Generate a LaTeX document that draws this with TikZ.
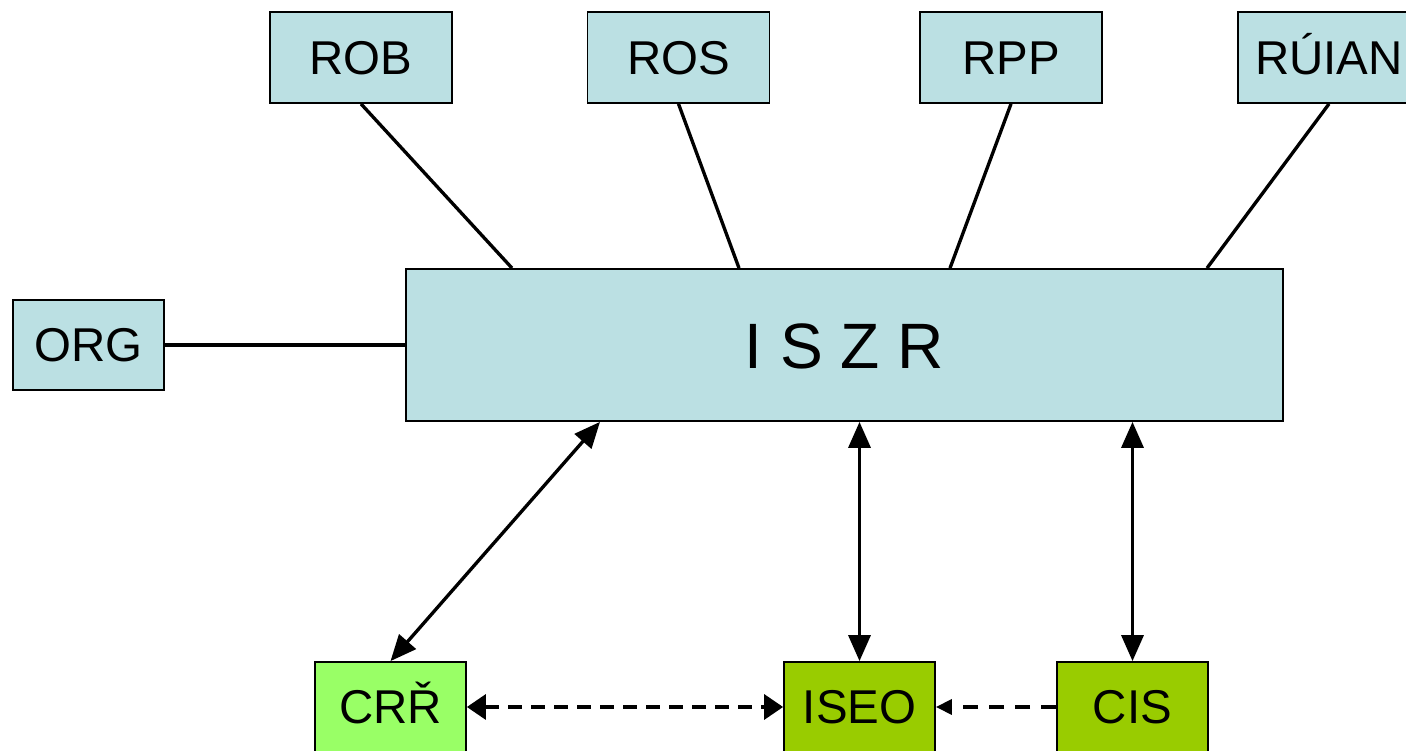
\documentclass[tikz,border=0pt]{standalone}
\usepackage{fontspec}
\setmainfont{Liberation Sans}
\usepackage{tikz}
\usetikzlibrary{arrows.meta}
\definecolor{regblue}{HTML}{BBE0E3}
\definecolor{lightgreen}{HTML}{99FF66}
\definecolor{olivegreen}{HTML}{99CC00}
\tikzset{
  regbox/.style={draw, line width=1pt, fill=regblue, minimum width=3.64cm, minimum height=1.82cm, inner sep=0pt, text height=0.68cm, text depth=0cm, font=\fontsize{27}{31}\selectfont},
  agbox/.style={draw, line width=1pt, minimum width=3.02cm, minimum height=1.8cm, inner sep=0pt, text height=0.68cm, text depth=0cm, font=\fontsize{27}{31}\selectfont},
  link/.style={line width=1.9pt},
  bigtip/.style={{Triangle[length=0.52cm,width=0.44cm]}-{Triangle[length=0.52cm,width=0.44cm]}}
}
\begin{document}
\begin{tikzpicture}
\useasboundingbox (0,0) rectangle (28.12,15.02);
\node[regbox] (rob) at (7.22,13.87) {ROB};
\node[regbox] (ros) at (13.57,13.87) {ROS};
\node[regbox] (rpp) at (20.22,13.87) {RPP};
\node[regbox] (ruian) at (26.58,13.87) {RÚIAN};
\node[regbox, minimum width=3.02cm, minimum height=1.8cm] (org) at (1.77,8.12) {ORG};
\node[regbox, minimum width=17.54cm, minimum height=3.04cm, text height=0.95cm, font=\fontsize{36.5}{42}\selectfont] (iszr) at (16.89,8.12) {I S Z R};
\node[agbox, fill=lightgreen] (crr) at (7.81,0.88) {CRŘ};
\node[agbox, fill=olivegreen] (iseo) at (17.19,0.88) {ISEO};
\node[agbox, fill=olivegreen] (cis) at (22.65,0.88) {CIS};
%%%%%registers to ISZR
\draw[link] (rob.south) -- ([xshift=-6.65cm]iszr.north);
\draw[link] (ros.south) -- ([xshift=-2.11cm]iszr.north);
\draw[link] (rpp.south) -- ([xshift=2.11cm]iszr.north);
\draw[link] (ruian.south) -- ([xshift=7.25cm]iszr.north);
\draw[link] (org.east) -- (iszr.west);
%%%%%agendas
\draw[link, bigtip] (crr.north) -- ([xshift=-4.89cm]iszr.south);
\draw[link, bigtip] (iseo.north) -- (iseo.north |- iszr.south);
\draw[link, bigtip] (cis.north) -- (cis.north |- iszr.south);
\draw[link, dash pattern=on 0.28cm off 0.18cm, {Triangle[length=0.38cm,width=0.5cm]}-{Triangle[length=0.38cm,width=0.5cm]}] (crr.east) -- (iseo.west);
\draw[link, dash pattern=on 0.3cm off 0.22cm, -{Triangle[length=0.32cm,width=0.3cm]}] (cis.west) -- (iseo.east);
\end{tikzpicture}
\end{document}
